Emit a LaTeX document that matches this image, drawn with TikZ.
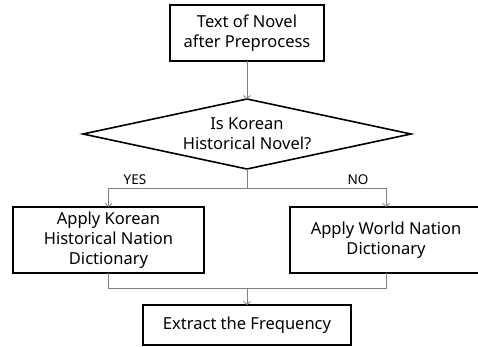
\documentclass[tikz,border=0pt]{standalone}
\usepackage{fontspec}
\setmainfont{Noto Sans}
\usetikzlibrary{shapes.geometric,arrows.meta,positioning}
\definecolor{linegray}{RGB}{128,128,128}
\tikzstyle{block} = [draw, line width=1.6pt, fill=white, rectangle,
    align=center, outer sep=0pt, inner sep=2pt]
\tikzstyle{decision} = [draw, line width=1.6pt, diamond, aspect=4.7,
    align=center, inner sep=0pt, outer sep=0pt,
    minimum width=328pt, minimum height=70pt]
\tikzstyle{line} = [draw, linegray, line width=0.8pt]
\tikzstyle{output} = [coordinate]
\tikzstyle{answer} = [font=\fontsize{13.5}{15}\selectfont]

\begin{document}
\begin{tikzpicture}[auto, x=1pt, y=1pt, >={Straight Barb[length=3pt,width=7pt]},
    font=\fontsize{16.5}{20}\selectfont]
  \useasboundingbox (0,0) rectangle (478,-347);

  \node [block, minimum width=154pt, minimum height=56pt] (novel) at (247,-33) {Text of Novel\\after Preprocess};
  \node [decision, below=38pt of novel] (korean) {Is Korean\\Historical Novel?};
  \node [block, minimum width=191pt, minimum height=66pt] (kordict) at (108.5,-240) {Apply Korean\\Historical Nation\\Dictionary};
  \node [block, minimum width=192pt, minimum height=66pt] (worlddict) at (386,-240) {Apply World Nation\\Dictionary};
  \node [block, minimum width=208pt, minimum height=40pt] (freq) at (247,-325) {Extract the Frequency};

  \node [output] (split) at (247,-188) {};
  \node [output] (merge) at (247,-288) {};
  \node [answer] (yes) at (135,-180) {YES};
  \node [answer] (no) at (358,-180) {NO};

  \draw [line, ->] (novel) -- (korean);
  \draw [line] (korean) -- (split);
  \draw [line, ->] (split) -| (kordict);
  \draw [line, ->] (split) -| (worlddict);
  \draw [line] (kordict) |- (merge);
  \draw [line] (worlddict) |- (merge);
  \draw [line, ->] (merge) -- (freq);
\end{tikzpicture}
\end{document}
